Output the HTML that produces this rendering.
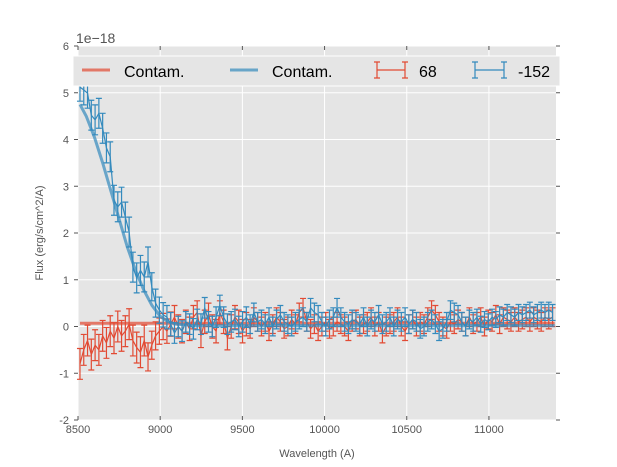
<!DOCTYPE html>
<html><head><meta charset="utf-8"><style>
html,body{margin:0;padding:0;background:#fff;}
svg{display:block;font-family:"Liberation Sans","DejaVu Sans",sans-serif;}
</style></head><body>
<svg id="chart" width="617" height="467" viewBox="0 0 617 467"></svg>
<script>
const blueFlux=[5.12,5.06,4.99,4.52,4.42,4.56,4.24,3.82,3.63,2.7,2.56,2.66,2.34,2.02,1.27,1.04,1.2,1.06,1.38,0.85,0.5,0.35,0.25,0.2,0.05,
-0.14,0.0,-0.1,0.1,0.05,-0.05,0.15,0.05,0.4,0.1,0.0,0.2,0.45,0.2,0.05,0.1,0.15,0.0,0.1,0.2,
0.05,0.3,0.1,0.15,0.05,0.2,0.0,0.15,0.25,0.1,0.05,0.0,0.1,0.15,0.2,0.1,0.4,0.3,0.25,0.1,
0.0,0.15,0.2,0.4,0.2,0.1,0.05,0.15,0.1,0.05,0.2,0.0,0.15,0.1,0.25,0.05,0.1,0.2,0.0,0.15,
0.1,0.2,0.05,0.15,0.1,-0.05,0.0,0.1,0.15,0.05,-0.1,-0.05,0.1,0.35,0.3,0.25,0.1,0.0,0.15,0.1,
0.2,0.05,0.15,0.1,0.2,0.15,0.25,0.2,0.3,0.25,0.2,0.3,0.25,0.3,0.35,0.25,0.3,0.35,0.3,0.35,0.3];
const blueErr=[0.3,0.32,0.32,0.32,0.32,0.32,0.32,0.32,0.32,0.32,0.32,0.32,0.32,0.32,0.32,0.32,0.32,0.32,0.32,0.3,0.3,0.28,0.26,0.25,0.25,
0.22,0.22,0.22,0.22,0.22,0.22,0.22,0.22,0.22,0.22,0.22,0.22,0.22,0.22,0.22,0.22,0.22,0.22,0.22,0.22,
0.2,0.2,0.2,0.2,0.2,0.2,0.2,0.2,0.2,0.2,0.2,0.2,0.2,0.2,0.2,0.2,0.2,0.2,0.2,0.2,
0.2,0.2,0.2,0.2,0.2,0.2,0.2,0.2,0.2,0.2,0.2,0.2,0.2,0.2,0.2,0.2,0.2,0.2,0.2,0.2,
0.2,0.2,0.2,0.2,0.2,0.2,0.2,0.2,0.2,0.2,0.2,0.2,0.2,0.2,0.2,0.2,0.2,0.2,0.2,0.2,
0.17,0.17,0.17,0.17,0.17,0.17,0.17,0.17,0.17,0.17,0.17,0.17,0.17,0.17,0.17,0.17,0.17,0.17,0.17,0.17,0.17];
const redFlux=[-0.8,-0.5,-0.3,-0.6,-0.4,-0.5,-0.2,-0.35,-0.1,-0.25,0.0,-0.2,-0.1,0.05,-0.3,-0.45,-0.55,-0.3,-0.65,-0.4,-0.2,-0.1,0.0,-0.1,0.05,
0.2,0.0,-0.1,0.1,-0.05,0.2,0.3,-0.2,0.1,0.25,0.0,-0.1,0.3,0.1,-0.25,0.0,0.2,0.1,-0.1,0.05,
-0.05,0.2,0.1,0.0,0.1,-0.1,0.05,0.2,0.1,-0.05,0.0,0.15,0.05,0.3,0.4,0.1,-0.05,0.05,-0.1,0.0,
0.1,-0.05,0.0,0.1,0.05,0.0,-0.1,0.1,0.15,0.0,0.05,0.1,0.2,0.0,0.1,-0.15,0.0,0.05,0.1,0.2,
0.0,-0.1,0.05,0.15,0.0,0.1,0.05,0.2,0.35,0.25,0.1,0.0,-0.05,0.1,0.05,0.15,0.1,0.0,0.2,0.05,
0.1,0.2,0.0,0.15,0.1,0.25,0.05,0.2,0.15,0.1,0.2,0.1,0.15,0.2,0.1,0.2,0.15,0.1,0.2,0.15,0.2];
const redErr=[0.33,0.33,0.33,0.33,0.33,0.33,0.33,0.33,0.33,0.33,0.33,0.33,0.33,0.33,0.33,0.33,0.33,0.33,0.3,0.3,0.3,0.28,0.28,0.26,0.26,
0.25,0.25,0.25,0.25,0.25,0.25,0.25,0.25,0.25,0.25,0.25,0.25,0.25,0.25,0.25,0.25,0.25,0.25,0.25,0.25,
0.2,0.2,0.2,0.2,0.2,0.2,0.2,0.2,0.2,0.2,0.2,0.2,0.2,0.2,0.2,0.2,0.2,0.2,0.2,0.2,
0.2,0.2,0.2,0.2,0.2,0.2,0.2,0.2,0.2,0.2,0.2,0.2,0.2,0.2,0.2,0.2,0.2,0.2,0.2,0.2,
0.2,0.2,0.2,0.2,0.2,0.2,0.2,0.2,0.2,0.2,0.2,0.2,0.2,0.2,0.2,0.2,0.2,0.2,0.2,0.2,
0.2,0.2,0.2,0.2,0.2,0.2,0.2,0.2,0.2,0.2,0.2,0.2,0.2,0.2,0.2,0.2,0.2,0.2,0.2,0.2,0.2];
const blueContamX=[8512,8550,8600,8650,8700,8750,8800,8850,8900,8950,9000,9050,9100,9200,11400];
const blueContamY=[4.75,4.5,4.05,3.5,2.9,2.3,1.7,1.2,0.78,0.45,0.22,0.1,0.05,0.02,0.02];
const redContamX=[8512,11400];
const redContamY=[0.07,0.07];
const xTicks=[8500,9000,9500,10000,10500,11000];
const yTicks=[-2,-1,0,1,2,3,4,5,6];
const x0=8512, dx=23;

const L=78,R=556,T=46,B=420,XMIN=8500,XMAX=11408,YMIN=-2,YMAX=6;
const sx=v=>L+(v-XMIN)/(XMAX-XMIN)*(R-L);
const sy=v=>B-(v-YMIN)/(YMAX-YMIN)*(B-T);
const svg=document.getElementById('chart');
const NS='http://www.w3.org/2000/svg';
function mk(tag,attrs,parent){const e=document.createElementNS(NS,tag);for(const k in attrs)e.setAttribute(k,attrs[k]);(parent||svg).appendChild(e);return e;}

const bg=mk('rect',{x:L,y:T,width:R-L,height:B-T,fill:'#e5e5e5'});


const grid=mk('g',{stroke:'#fff','stroke-width':1});


const axes=mk('g',{});


xTicks.forEach(t=>{const x=sx(t);
 mk('line',{x1:x,x2:x,y1:T,y2:B},grid);
 mk('line',{x1:x,x2:x,y1:B,y2:B-4,stroke:'#555'},axes);
 mk('line',{x1:x,x2:x,y1:T,y2:T+4,stroke:'#555'},axes);
 const tx=mk('text',{x:x,y:B+13,'font-size':11,fill:'#555','text-anchor':'middle'},axes);tx.textContent=t;
 
 
});
yTicks.forEach(t=>{const y=sy(t);
 mk('line',{x1:L,x2:R,y1:y,y2:y},grid);
 mk('line',{x1:L-4,x2:L,y1:y,y2:y,stroke:'#555'},axes);
 mk('line',{x1:R,x2:R+4,y1:y,y2:y,stroke:'#555'},axes);
 const tx=mk('text',{x:L-9,y:y+4,'font-size':11,fill:'#555','text-anchor':'end'},axes);tx.textContent=t;
 
 
});
function contam(xs,ys,color,name){
 const p=mk('polyline',{points:xs.map((x,i)=>sx(x)+','+sy(ys[i])).join(' '),fill:'none',stroke:color,'stroke-width':3,opacity:0.7});
 
 
}
function series(ys,errs,color,name){
 const g=mk('g',{stroke:color,'stroke-width':1.2,fill:'none'});
 
 
 ys.forEach((v,i)=>{const x=sx(x0+i*dx),y1=sy(v-errs[i]),y2=sy(v+errs[i]);
  mk('path',{d:`M${x},${y1}V${y2}M${x-3},${y1}H${x+3}M${x-3},${y2}H${x+3}`},g);});
 mk('polyline',{points:ys.map((v,i)=>sx(x0+i*dx)+','+sy(v)).join(' ')},g);
}
contam(redContamX,redContamY,'#e24a33','red-contam-line');
series(redFlux,redErr,'#e24a33','series-68');
contam(blueContamX,blueContamY,'#348abd','blue-contam-line');
series(blueFlux,blueErr,'#348abd','series-minus-152');

const off=mk('text',{x:76,y:43,'font-size':14,fill:'#555'});off.textContent='1e\u221218';


const xl=mk('text',{x:317,y:457,'font-size':11,fill:'#555','text-anchor':'middle'});xl.textContent='Wavelength (A)';


const yl=mk('text',{x:0,y:0,'font-size':11,fill:'#555','text-anchor':'middle',transform:'translate(43,233) rotate(-90)'});yl.textContent='Flux (erg/s/cm^2/A)';



const lg=mk('g',{});


mk('rect',{x:73,y:56,width:487,height:30,fill:'#e5e5e5',stroke:'#fff','stroke-width':1},lg);
function lgText(x,s,n){const t=mk('text',{x:x,y:77,'font-size':16,fill:'#000'},lg);t.textContent=s;
 
 }
mk('line',{x1:82,x2:110,y1:70,y2:70,stroke:'#e24a33','stroke-width':3,opacity:0.7},lg);
lgText(124,'Contam.','legend-red-contam');
mk('line',{x1:230,x2:258,y1:70,y2:70,stroke:'#348abd','stroke-width':3,opacity:0.7},lg);
lgText(272,'Contam.','legend-blue-contam');
mk('path',{d:'M377,62V78M405,62V78M377,70H405M374,62H380M374,78H380M402,62H408M402,78H408',stroke:'#e24a33','stroke-width':1.2,fill:'none'},lg);
lgText(419,'68','legend-68');
mk('path',{d:'M475,62V78M504,62V78M475,70H504M472,62H478M472,78H478M501,62H507M501,78H507',stroke:'#348abd','stroke-width':1.2,fill:'none'},lg);
lgText(518,'-152','legend-minus-152');
</script>
</body></html>
